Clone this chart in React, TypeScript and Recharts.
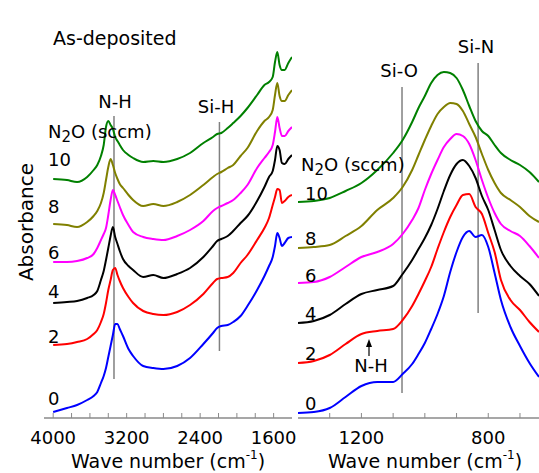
import { LineChart, Line, XAxis, YAxis, ReferenceLine } from "recharts";

const FONT = "'DejaVu Sans', sans-serif";
const AXIS = "#8a8a8a";

// N2O flow (sccm), top curve first
const flows = ["10", "8", "6", "4", "2", "0"];
const colors = ["#008000", "#808000", "#ff00ff", "#000000", "#ff0000", "#0000ff"];

// left panel: 4000-1400 cm-1
const leftWn = [
  4000, 3850, 3740, 3630, 3560, 3520, 3480, 3450, 3425, 3400, 3375, 3350, 3325, 3300,
  3275, 3240, 3180, 3130, 3020, 2910, 2800, 2650, 2510, 2365, 2260, 2215, 2170, 2100,
  2040, 1960, 1885, 1780, 1700, 1650, 1610, 1585, 1560, 1535, 1510, 1480, 1440, 1400,
];
const left10 = [
  2.39, 2.38, 2.36, 2.41, 2.48, 2.53, 2.62, 2.73, 2.91, 2.97, 2.93, 2.89, 2.81, 2.77,
  2.73, 2.68, 2.63, 2.6, 2.56, 2.57, 2.56, 2.59, 2.65, 2.75, 2.81, 2.84, 2.85, 2.9,
  2.95, 3.02, 3.1, 3.23, 3.33, 3.36, 3.41, 3.56, 3.66, 3.53, 3.48, 3.48, 3.55, 3.61,
];
const left8 = [
  1.94, 1.93, 1.91, 1.96, 2.02, 2.07, 2.15, 2.25, 2.38, 2.51, 2.59, 2.53, 2.45, 2.39,
  2.34, 2.3, 2.23, 2.18, 2.12, 2.14, 2.12, 2.16, 2.23, 2.33, 2.41, 2.44, 2.46, 2.5,
  2.53, 2.62, 2.7, 2.87, 2.97, 3.01, 3.08, 3.23, 3.35, 3.22, 3.17, 3.17, 3.23, 3.28,
];
const left6 = [
  1.56, 1.56, 1.57, 1.6, 1.64, 1.7, 1.78, 1.84, 1.9, 2.03, 2.18, 2.28, 2.23, 2.17,
  2.11, 2.03, 1.93, 1.86, 1.81, 1.79, 1.78, 1.82, 1.88, 1.97, 2.07, 2.1, 2.12, 2.15,
  2.18, 2.25, 2.33, 2.5, 2.6, 2.66, 2.73, 2.86, 3.01, 2.9, 2.82, 2.82, 2.87, 2.91,
];
const left4 = [
  1.15, 1.16, 1.17, 1.2, 1.23, 1.27, 1.38, 1.47, 1.58, 1.7, 1.82, 1.91, 1.81, 1.74,
  1.67, 1.59, 1.52, 1.48, 1.41, 1.43, 1.4, 1.44, 1.5, 1.61, 1.72, 1.77, 1.79, 1.82,
  1.87, 1.95, 2.02, 2.17, 2.31, 2.41, 2.47, 2.58, 2.72, 2.68, 2.55, 2.54, 2.59, 2.63,
];
const left2 = [
  0.73, 0.74, 0.76, 0.79, 0.84, 0.88, 0.96, 1.04, 1.15, 1.28, 1.38, 1.48, 1.5, 1.43,
  1.37, 1.3, 1.21, 1.15, 1.07, 1.04, 1.03, 1.06, 1.13, 1.24, 1.35, 1.39, 1.4, 1.41,
  1.45, 1.55, 1.63, 1.78, 1.9, 2.0, 2.13, 2.21, 2.29, 2.28, 2.15, 2.17, 2.21, 2.23,
];
const left0 = [
  0.06, 0.1, 0.13, 0.18, 0.22, 0.26, 0.35, 0.42, 0.5, 0.61, 0.72, 0.83, 0.94, 0.94,
  0.89, 0.82, 0.69, 0.62, 0.52, 0.5, 0.49, 0.52, 0.6, 0.74, 0.85, 0.9, 0.92, 0.93,
  0.96, 1.02, 1.12, 1.28, 1.42, 1.52, 1.61, 1.72, 1.85, 1.8, 1.72, 1.75, 1.8, 1.81,
];

// right panel: 1400-640 cm-1
const rightWn = [
  1400, 1350, 1300, 1250, 1200, 1150, 1100, 1070, 1040, 1020, 1000, 980, 960, 940,
  920, 900, 880, 860, 840, 820, 800, 780, 760, 730, 700, 670, 640,
];
const right10 = [
  2.16, 2.17, 2.2, 2.27, 2.35, 2.48, 2.65, 2.78, 2.96, 3.1, 3.22, 3.35, 3.43, 3.46,
  3.45, 3.4, 3.28, 3.12, 2.97, 2.87, 2.82, 2.73, 2.65, 2.58, 2.53, 2.46, 2.36,
];
const right8 = [
  1.7, 1.71, 1.73, 1.82, 1.92, 2.08, 2.2, 2.31, 2.48, 2.63, 2.78, 2.92, 3.04, 3.11,
  3.15, 3.14, 3.07, 2.94, 2.81, 2.64, 2.48, 2.35, 2.25, 2.18, 2.11, 2.02, 1.96,
];
const right6 = [
  1.35, 1.36, 1.41, 1.51, 1.61, 1.66, 1.74, 1.84, 1.98, 2.1, 2.28, 2.44, 2.58, 2.71,
  2.79, 2.84, 2.82, 2.74, 2.58, 2.38, 2.2, 2.05, 1.94, 1.87, 1.82, 1.72, 1.6,
];
const right4 = [
  0.95, 0.97, 1.03, 1.14, 1.24, 1.28, 1.32, 1.44, 1.58, 1.69, 1.8, 1.93, 2.09, 2.27,
  2.43, 2.54, 2.58, 2.52, 2.4, 2.22, 2.08, 1.88, 1.68, 1.52, 1.42, 1.34, 1.22,
];
const right2 = [
  0.55, 0.57, 0.63, 0.74, 0.84, 0.87, 0.89, 0.98, 1.12, 1.24, 1.37, 1.51, 1.69, 1.86,
  2.01, 2.13, 2.23, 2.24, 2.11, 2.04, 1.85, 1.66, 1.38, 1.18, 1.08, 0.96, 0.86,
];
const right0 = [
  0.05, 0.06, 0.1, 0.21, 0.32, 0.36, 0.36, 0.44, 0.54, 0.64, 0.75, 0.89, 1.04, 1.22,
  1.46, 1.66, 1.81, 1.87, 1.81, 1.83, 1.71, 1.45, 1.18, 0.91, 0.72, 0.55, 0.41,
];

const leftTicks = [4000, 3800, 3600, 3400, 3200, 3000, 2800, 2600, 2400, 2200, 2000, 1800, 1600];
const leftLabels = [4000, 3200, 2400, 1600];
const rightTicks = [1300, 1200, 1100, 1000, 900, 800, 700];
const rightLabels = [1200, 800];

// band markers: wave number and vertical extent (absorbance)
const leftBands = [
  { name: "N-H", wn: 3338, from: 0.39, to: 3.02 },
  { name: "Si-H", wn: 2190, from: 0.67, to: 2.96 },
];
const rightBands = [
  { name: "Si-O", wn: 1072, from: 0.25, to: 3.31 },
  { name: "Si-N", wn: 832, from: 1.05, to: 3.55 },
];

const toPoints = (wn: number[], a: number[]) => wn.map((w, i) => ({ wn: w, a: a[i] }));
const leftSeries = [left10, left8, left6, left4, left2, left0].map((s) => toPoints(leftWn, s));
const rightSeries = [right10, right8, right6, right4, right2, right0].map((s) => toPoints(rightWn, s));

const tickStyle = { fill: "#000", fontSize: 18, fontFamily: FONT };

function Panel({
  width,
  marginLeft,
  marginRight,
  domain,
  ticks,
  labels,
  series,
  bands,
  rightAxis,
}: {
  width: number;
  marginLeft: number;
  marginRight: number;
  domain: [number, number];
  ticks: number[];
  labels: number[];
  series: { wn: number; a: number }[][];
  bands: { name: string; wn: number; from: number; to: number }[];
  rightAxis: boolean;
}) {
  return (
    <LineChart width={width} height={473} margin={{ top: 15, right: marginRight, left: marginLeft, bottom: 0 }}>
      <XAxis
        xAxisId="b"
        type="number"
        dataKey="wn"
        domain={domain}
        reversed
        allowDataOverflow
        ticks={ticks}
        interval={0}
        tickFormatter={(v: number) => (labels.includes(v) ? String(v) : "")}
        height={55}
        tickSize={-5}
        tickMargin={18}
        tick={tickStyle}
        axisLine={{ stroke: AXIS, strokeWidth: 1.5 }}
        tickLine={{ stroke: AXIS }}
      />
      <XAxis
        xAxisId="t"
        orientation="top"
        type="number"
        dataKey="wn"
        domain={domain}
        reversed
        allowDataOverflow
        ticks={ticks}
        interval={0}
        tickFormatter={() => ""}
        height={0}
        tickSize={-5}
        axisLine={{ stroke: AXIS, strokeWidth: 1.5 }}
        tickLine={{ stroke: AXIS }}
      />
      <YAxis yAxisId="l" domain={[0, 4.03]} width={0} tick={false} tickLine={false} axisLine={{ stroke: AXIS, strokeWidth: 1.5 }} />
      {rightAxis && (
        <YAxis yAxisId="r" orientation="right" domain={[0, 4.03]} width={0} tick={false} tickLine={false} axisLine={{ stroke: AXIS, strokeWidth: 1.5 }} />
      )}
      {bands.map((b) => (
        <ReferenceLine
          key={b.name}
          xAxisId="b"
          yAxisId="l"
          segment={[{ x: b.wn, y: b.from }, { x: b.wn, y: b.to }]}
          stroke="#808080"
          strokeWidth={1.5}
        />
      ))}
      {series.map((s, i) => (
        <Line
          key={flows[i]}
          xAxisId="b"
          yAxisId="l"
          data={s}
          dataKey="a"
          type="monotone"
          stroke={colors[i]}
          strokeWidth={2}
          dot={false}
          isAnimationActive={false}
        />
      ))}
    </LineChart>
  );
}

function N2O({ x, y }: { x: number; y: number }) {
  return (
    <text x={x} y={y} fontSize={18}>
      N<tspan fontSize={15} dy={4}>2</tspan>
      <tspan dy={-4}>O (sccm)</tspan>
    </text>
  );
}

function Title({ x, y }: { x: number; y: number }) {
  return (
    <text x={x} y={y} fontSize={19} textAnchor="middle">
      Wave number (cm<tspan fontSize={12} dy={-9}>-1</tspan>
      <tspan dy={9}>)</tspan>
    </text>
  );
}

export default function App() {
  const leftNums = [166, 213, 259, 298, 343, 405];
  const rightNums = [200, 245, 282, 320, 360, 410];
  return (
    <div style={{ position: "absolute", left: 0, top: 0, width: 539, height: 473, overflow: "hidden", background: "#fff" }}>
      <div style={{ position: "absolute", left: 0, top: 0 }}>
        <Panel width={300} marginLeft={44} marginRight={8} domain={[1400, 4100]} ticks={leftTicks} labels={leftLabels} series={leftSeries} bands={leftBands} rightAxis />
      </div>
      <div style={{ position: "absolute", left: 290, top: 0 }}>
        <Panel width={249} marginLeft={8} marginRight={0} domain={[640, 1400]} ticks={rightTicks} labels={rightLabels} series={rightSeries} bands={rightBands} rightAxis={false} />
      </div>
      <svg width={539} height={473} style={{ position: "absolute", left: 0, top: 0, pointerEvents: "none" }} fontFamily={FONT} fill="#000">
        <text x={53} y={45} fontSize={19}>As-deposited</text>
        <text x={115} y={108} fontSize={18} textAnchor="middle">N-H</text>
        <text x={216} y={113} fontSize={18} textAnchor="middle">Si-H</text>
        <text x={399} y={77} fontSize={18} textAnchor="middle">Si-O</text>
        <text x={476} y={53} fontSize={18} textAnchor="middle">Si-N</text>
        <N2O x={48} y={138} />
        <N2O x={301} y={171} />
        {flows.map((f, i) => (
          <text key={"l" + f} x={48} y={leftNums[i]} fontSize={18}>{f}</text>
        ))}
        {flows.map((f, i) => (
          <text key={"r" + f} x={305} y={rightNums[i]} fontSize={18}>{f}</text>
        ))}
        <text x={371} y={372} fontSize={18} textAnchor="middle">N-H</text>
        <line x1={369} y1={356} x2={369} y2={345} stroke="#000" strokeWidth={1.2} />
        <polygon points="369,339 366,347 372,347" fill="#000" />
        <text transform="translate(33,222) rotate(-90)" fontSize={20} textAnchor="middle">Absorbance</text>
        <Title x={168} y={468} />
        <Title x={425} y={468} />
      </svg>
    </div>
  );
}
